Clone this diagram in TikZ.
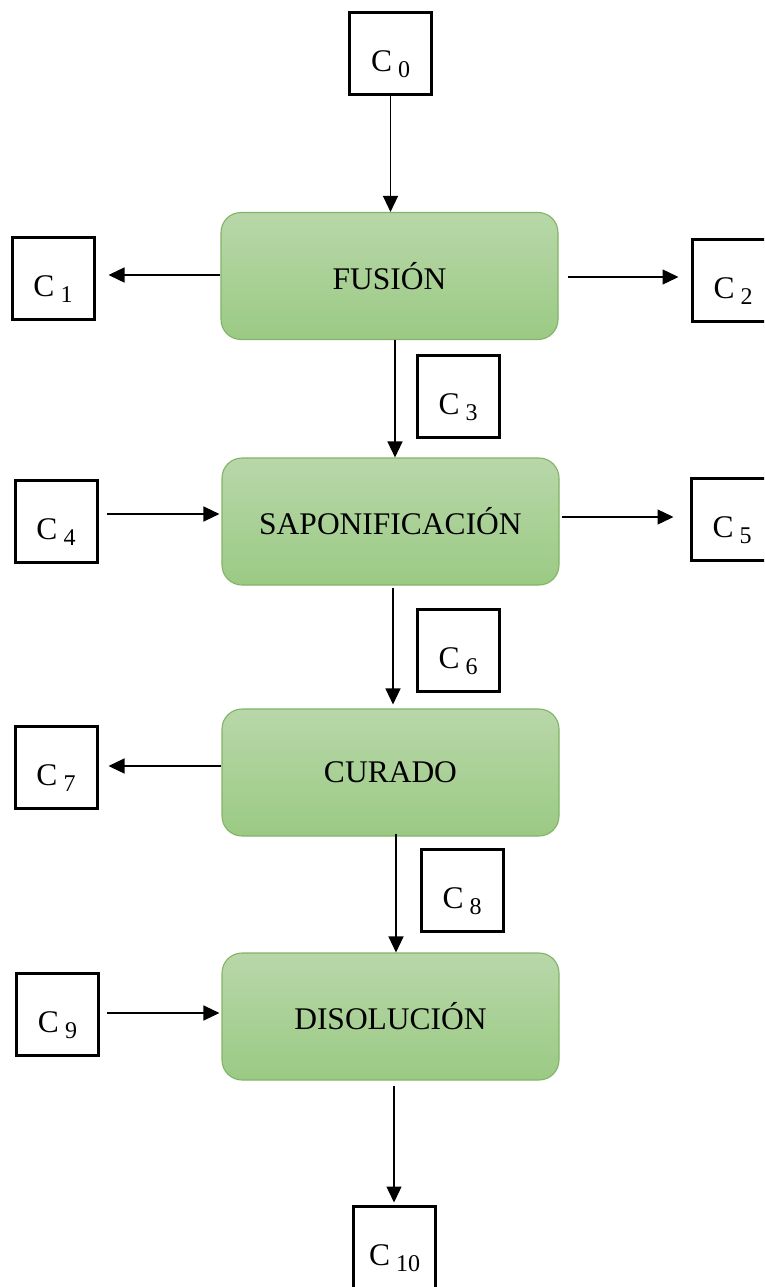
\documentclass[tikz,border=0pt]{standalone}
\usepackage{fontspec}
\setmainfont{Liberation Serif}
\usetikzlibrary{arrows.meta,calc}

% stream label: C with a lowered index
\newcommand{\streamlbl}[1]{C\hspace{6pt}{\fontsize{24}{24}\selectfont\raisebox{-6pt}{#1}}}

\definecolor{stepTop}{HTML}{B8D7A9}
\definecolor{stepBot}{HTML}{9BCA84}
\definecolor{stepLine}{HTML}{82B366}

\tikzset{
  x=1pt, y=1pt,
  stepbox/.style={rectangle, rounded corners=20pt, draw=stepLine, line width=1.1pt,
    top color=stepTop, bottom color=stepBot, minimum width=337pt, minimum height=127pt,
    inner sep=0pt, font=\fontsize{31.5}{36}\selectfont},
  cbox/.style={rectangle, draw=black, line width=3pt, minimum width=82pt, minimum height=82pt,
    inner sep=0pt, font=\fontsize{31.5}{36}\selectfont, text height=36pt, text depth=0pt},
  arr/.style={line width=1.3pt, -{Triangle[length=16pt,width=15pt]}},
}

\begin{document}
\begin{tikzpicture}
\clip (0,0) rectangle (764,-1287);
\fill[white] (0,0) rectangle (764,-1287);

% process steps
\node[stepbox] (fus) at (389.5,-276) {FUSIÓN};
\node[stepbox] (sap) at (390.5,-521.5) {SAPONIFICACIÓN};
\node[stepbox] (cur) at (390.5,-772.5) {CURADO};
\node[stepbox] (dis) at (390.5,-1016.5) {DISOLUCIÓN};

% streams
\node[cbox] (c0) at (390.5,-54) {\streamlbl{0}};
\node[cbox] (c1) at (53,-278) {\streamlbl{1}};
\node[cbox] (c2) at (733,-280) {\streamlbl{2}};
\node[cbox] (c3) at (458,-396) {\streamlbl{3}};
\node[cbox] (c4) at (56,-521.5) {\streamlbl{4}};
\node[cbox] (c5) at (732,-519.5) {\streamlbl{5}};
\node[cbox] (c6) at (458,-650) {\streamlbl{6}};
\node[cbox] (c7) at (56,-767) {\streamlbl{7}};
\node[cbox] (c8) at (462,-890) {\streamlbl{8}};
\node[cbox] (c9) at (57.5,-1014) {\streamlbl{9}};
\node[cbox] (c10) at (394.5,-1247) {\streamlbl{10}};

% main line
\draw[arr] (c0.south) -- (c0.south |- fus.north);
\draw[arr] ([xshift=5.5pt]fus.south) -- ([xshift=5.5pt]fus.south |- sap.north);
\draw[arr, shorten <=2pt, shorten >=4pt] ([xshift=2.5pt]sap.south) -- ([xshift=2.5pt]sap.south |- cur.north);
\draw[arr, shorten <=-3pt] ([xshift=5.5pt]cur.south) -- ([xshift=5.5pt]cur.south |- dis.north);
\draw[arr, shorten <=5pt, shorten >=2pt] ([xshift=3.5pt]dis.south) -- ([xshift=3.5pt]dis.south |- c10.north);

% side streams
\draw[arr, shorten >=13pt] (fus.west |- 0,-275) -- (c1.east |- 0,-275);
\draw[arr, shorten <=9pt, shorten >=12pt] (fus.east |- 0,-277) -- (c2.west |- 0,-277);
\draw[arr, shorten <=8pt, shorten >=2pt] (c4.east |- 0,-514) -- (sap.west |- 0,-514);
\draw[arr, shorten <=2pt, shorten >=16pt] (sap.east |- 0,-517) -- (c5.west |- 0,-517);
\draw[arr, shorten >=10pt] (cur.west |- 0,-766) -- (c7.east |- 0,-766);
\draw[arr, shorten <=7pt, shorten >=2pt] (c9.east |- 0,-1013) -- (dis.west |- 0,-1013);
\end{tikzpicture}
\end{document}
